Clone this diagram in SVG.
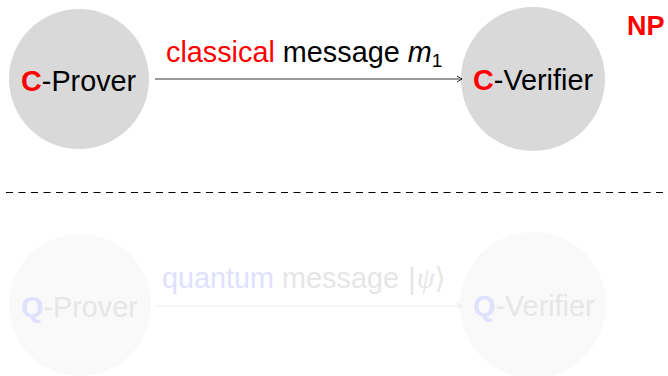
<svg xmlns="http://www.w3.org/2000/svg" width="668" height="376" viewBox="0 0 668 376">
<style>
text{font-family:"Liberation Sans",Arial,sans-serif}
.lbl{font-size:28.8px}
.node{font-size:28.8px}
.top circle{fill:#d9d9d9}
.bot circle{fill:#f9f9f9}
.red{fill:#ff0000;font-weight:bold}
.qb{fill:#e0e0ff;font-weight:bold}
.dim{fill:#e6e6e6}
</style>
<defs>
<marker id="ah" markerWidth="8" markerHeight="8" refX="6" refY="4" orient="auto" markerUnits="userSpaceOnUse">
<path d="M1,1 L6,4 L1,7" fill="none" stroke="#000" stroke-width="0.8"/>
</marker>
<marker id="ahq" markerWidth="8" markerHeight="8" refX="6" refY="4" orient="auto" markerUnits="userSpaceOnUse">
<path d="M1,1 L6,4 L1,7" fill="none" stroke="#e6e6e6" stroke-width="0.8"/>
</marker>
</defs>
<g id="c-prover" class="top"><circle cx="79" cy="79" r="70"/><text class="node" x="21" y="91"><tspan class="red">C</tspan>-Prover</text></g>
<g id="c-verifier" class="top"><circle cx="533" cy="79" r="72"/><text class="node" x="473" y="90"><tspan class="red">C</tspan>-Verifier</text></g>
<g id="np"><text x="627" y="35" font-size="27" class="red">NP</text></g>
<g id="q-prover" class="bot"><circle cx="80" cy="305" r="71"/><text class="node dim" x="21" y="317"><tspan class="qb">Q</tspan>-Prover</text></g>
<g id="q-verifier" class="bot"><circle cx="533" cy="305" r="73"/><text class="node dim" x="473" y="316"><tspan class="qb">Q</tspan>-Verifier</text></g>
<g id="connectors">
<line x1="155" y1="79" x2="462" y2="79" stroke="#000" stroke-width="0.8" marker-end="url(#ah)"/>
<line x1="155" y1="306" x2="462" y2="306" stroke="#e6e6e6" stroke-width="0.8" marker-end="url(#ahq)"/>
<text class="lbl" x="166" y="62"><tspan fill="#ff0000">classical</tspan> message <tspan font-style="italic">m</tspan><tspan font-size="19" dy="5">1</tspan></text>
<text class="lbl" x="162" y="288"><tspan fill="#e0e0ff">quantum</tspan><tspan class="dim"> message </tspan><tspan class="dim" font-family="DejaVu Serif,serif" font-weight="200">|</tspan><tspan class="dim" font-family="Liberation Serif,serif" font-style="italic">ψ</tspan><tspan class="dim" font-family="DejaVu Serif,serif" font-weight="200">⟩</tspan></text>
</g>
<line x1="6" y1="192.5" x2="668" y2="192.5" stroke="#000" stroke-width="1" stroke-dasharray="7,5.5"/>
</svg>
